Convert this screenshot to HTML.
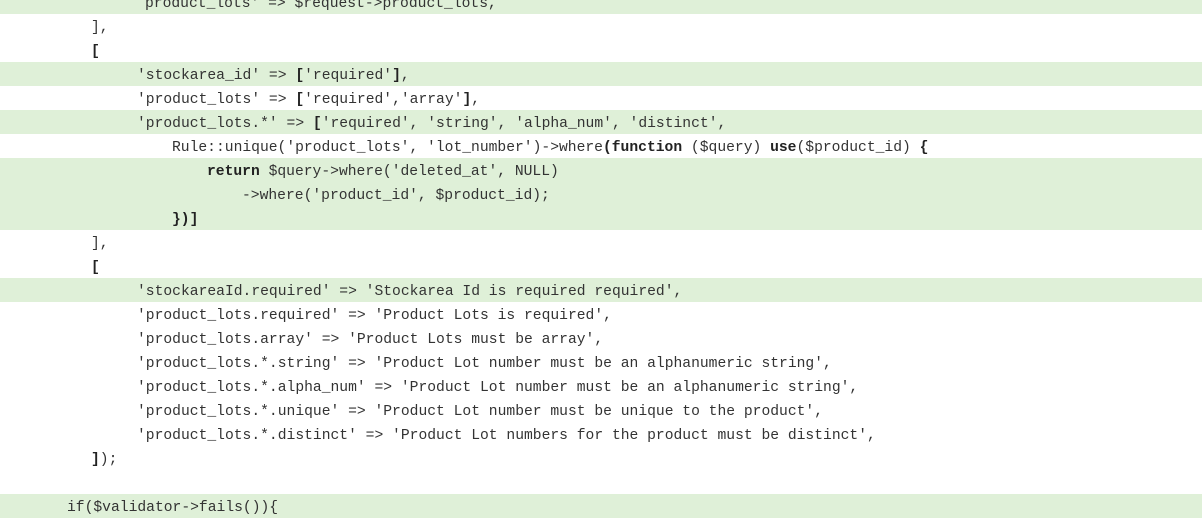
<!DOCTYPE html>
<html><head><meta charset="utf-8"><style>
html,body{margin:0;padding:0;background:#fff;width:1202px;height:504px;overflow:hidden}
.wrap{position:absolute;top:-10px;left:0;width:1202px}
.l{height:24px;line-height:24px;white-space:pre;font-family:"Liberation Mono","DejaVu Sans Mono",monospace;font-size:14.67px;color:#333;position:relative}
.g{background:#dff0d8}
.l span.t{position:absolute;top:2px}
b{font-weight:bold;color:#222}
</style></head><body><div class="wrap">
<div class="l g"><span class="t" style="left:145px">product_lots' => $request->product_lots,</span></div>
<div class="l"><span class="t" style="left:91px">],</span></div>
<div class="l"><span class="t" style="left:91px"><b>[</b></span></div>
<div class="l g"><span class="t" style="left:137px">'stockarea_id' => <b>[</b>'required'<b>]</b>,</span></div>
<div class="l"><span class="t" style="left:137px">'product_lots' => <b>[</b>'required','array'<b>]</b>,</span></div>
<div class="l g"><span class="t" style="left:137px">'product_lots.*' => <b>[</b>'required', 'string', 'alpha_num', 'distinct',</span></div>
<div class="l"><span class="t" style="left:172px">Rule::unique('product_lots', 'lot_number')->where<b>(function</b> ($query) <b>use</b>($product_id) <b>{</b></span></div>
<div class="l g"><span class="t" style="left:207px"><b>return</b> $query->where('deleted_at', NULL)</span></div>
<div class="l g"><span class="t" style="left:242px">->where('product_id', $product_id);</span></div>
<div class="l g"><span class="t" style="left:172px"><b>})]</b></span></div>
<div class="l"><span class="t" style="left:91px">],</span></div>
<div class="l"><span class="t" style="left:91px"><b>[</b></span></div>
<div class="l g"><span class="t" style="left:137px">'stockareaId.required' => 'Stockarea Id is required required',</span></div>
<div class="l"><span class="t" style="left:137px">'product_lots.required' => 'Product Lots is required',</span></div>
<div class="l"><span class="t" style="left:137px">'product_lots.array' => 'Product Lots must be array',</span></div>
<div class="l"><span class="t" style="left:137px">'product_lots.*.string' => 'Product Lot number must be an alphanumeric string',</span></div>
<div class="l"><span class="t" style="left:137px">'product_lots.*.alpha_num' => 'Product Lot number must be an alphanumeric string',</span></div>
<div class="l"><span class="t" style="left:137px">'product_lots.*.unique' => 'Product Lot number must be unique to the product',</span></div>
<div class="l"><span class="t" style="left:137px">'product_lots.*.distinct' => 'Product Lot numbers for the product must be distinct',</span></div>
<div class="l"><span class="t" style="left:91px"><b>]</b>);</span></div>
<div class="l"></div>
<div class="l g"><span class="t" style="left:67px">if($validator->fails()){</span></div>
</div></body></html>
